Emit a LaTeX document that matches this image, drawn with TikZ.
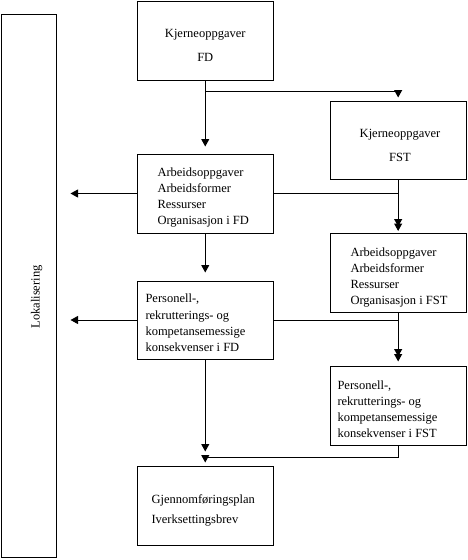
\documentclass[tikz,border=0pt]{standalone}
\usepackage{fontspec}
\setmainfont{Liberation Serif}
\usetikzlibrary{arrows.meta,calc}
\begin{document}
\begin{tikzpicture}[x=1pt,y=-1pt,line width=1pt,
  box/.style={draw,inner sep=0pt,minimum width=136.5pt},
  fstbox/.style={draw,inner sep=0pt,minimum width=136.3pt},
  txt/.style={inner sep=0pt,align=left,anchor=west,font=\fontsize{12.5}{16.3}\selectfont},
  ctxt/.style={inner sep=0pt,align=center,font=\fontsize{12.5}{24}\selectfont},
  arr/.style={-{Triangle[length=7.5pt,width=8pt]}}]
\useasboundingbox (0,0) rectangle (467,560);
% boxes
\node[draw,inner sep=0pt,minimum width=54.3pt,minimum height=543.7pt] (lok) at (28.85,285.85) {};
\node[box,minimum height=79pt] (b1) at (205.25,40.5) {};
\node[box,minimum height=79pt] (b2) at (205.25,193.5) {};
\node[fstbox,minimum height=78pt] (b3) at (398.15,140) {};
\node[fstbox,minimum height=78.5pt] (b4) at (398.15,272.75) {};
\node[box,minimum height=78pt] (b5) at (205.25,320) {};
\node[fstbox,minimum height=79pt] (b6) at (398.15,405.5) {};
\node[box,minimum height=79pt] (b7) at (205.25,505.5) {};
% texts
\node[rotate=90,inner sep=0pt,font=\fontsize{12.5}{15}\selectfont] (lt) at (36.7,297) {Lokalisering};
\node[ctxt] (t1) at (205.25,45) {Kjerneoppgaver\\FD};
\node[ctxt] (t3) at (400,145) {Kjerneoppgaver\\FST};
\node[txt] (t2) at (157,197.5) {Arbeidsoppgaver\\Arbeidsformer\\Ressurser\\Organisasjon i FD};
\node[txt,font=\fontsize{12.5}{15.9}\selectfont] (t4) at (350,277.5) {Arbeidsoppgaver\\Arbeidsformer\\Ressurser\\Organisasjon i FST};
\node[txt] (t5) at (145,323) {Personell-,\\rekrutterings- og\\kompetansemessige\\konsekvenser i FD};
\node[txt,font=\fontsize{12.5}{16}\selectfont] (t6) at (337,409) {Personell-,\\rekrutterings- og\\kompetansemessige\\konsekvenser i FST};
\node[txt,font=\fontsize{12.5}{20}\selectfont] (t7) at (151,510) {Gjennomføringsplan\\Iverksettingsbrev};
% connectors
\draw[arr,shorten >=7pt] (b1.south) -- (b2.north);
\draw[arr,shorten >=3pt] ($(b1.south)+(0,11)$) -| (b3.north);
\draw[arr,shorten >=2pt] (b3.south) -- (b4.north);
\draw[arr,shorten >=6.5pt] (b2.east) -| (b4.north);
\draw[arr,shorten >=14pt] (b2.west) -- (lok.east |- b2.west);
\draw[arr,shorten >=8pt] (b2.south) -- (b5.north);
\draw[arr,shorten >=4pt] (b4.south) -- (b6.north);
\draw[arr,shorten >=9pt] (b5.east) -| (b6.north);
\draw[arr,shorten >=14pt] (b5.west) -- (lok.east |- b5.west);
\draw[arr,shorten >=14pt] (b5.south) -- (b7.north);
\draw[arr,shorten >=3pt] (b6.south) -- ++(0,11.5) -| (b7.north);
\end{tikzpicture}
\end{document}
